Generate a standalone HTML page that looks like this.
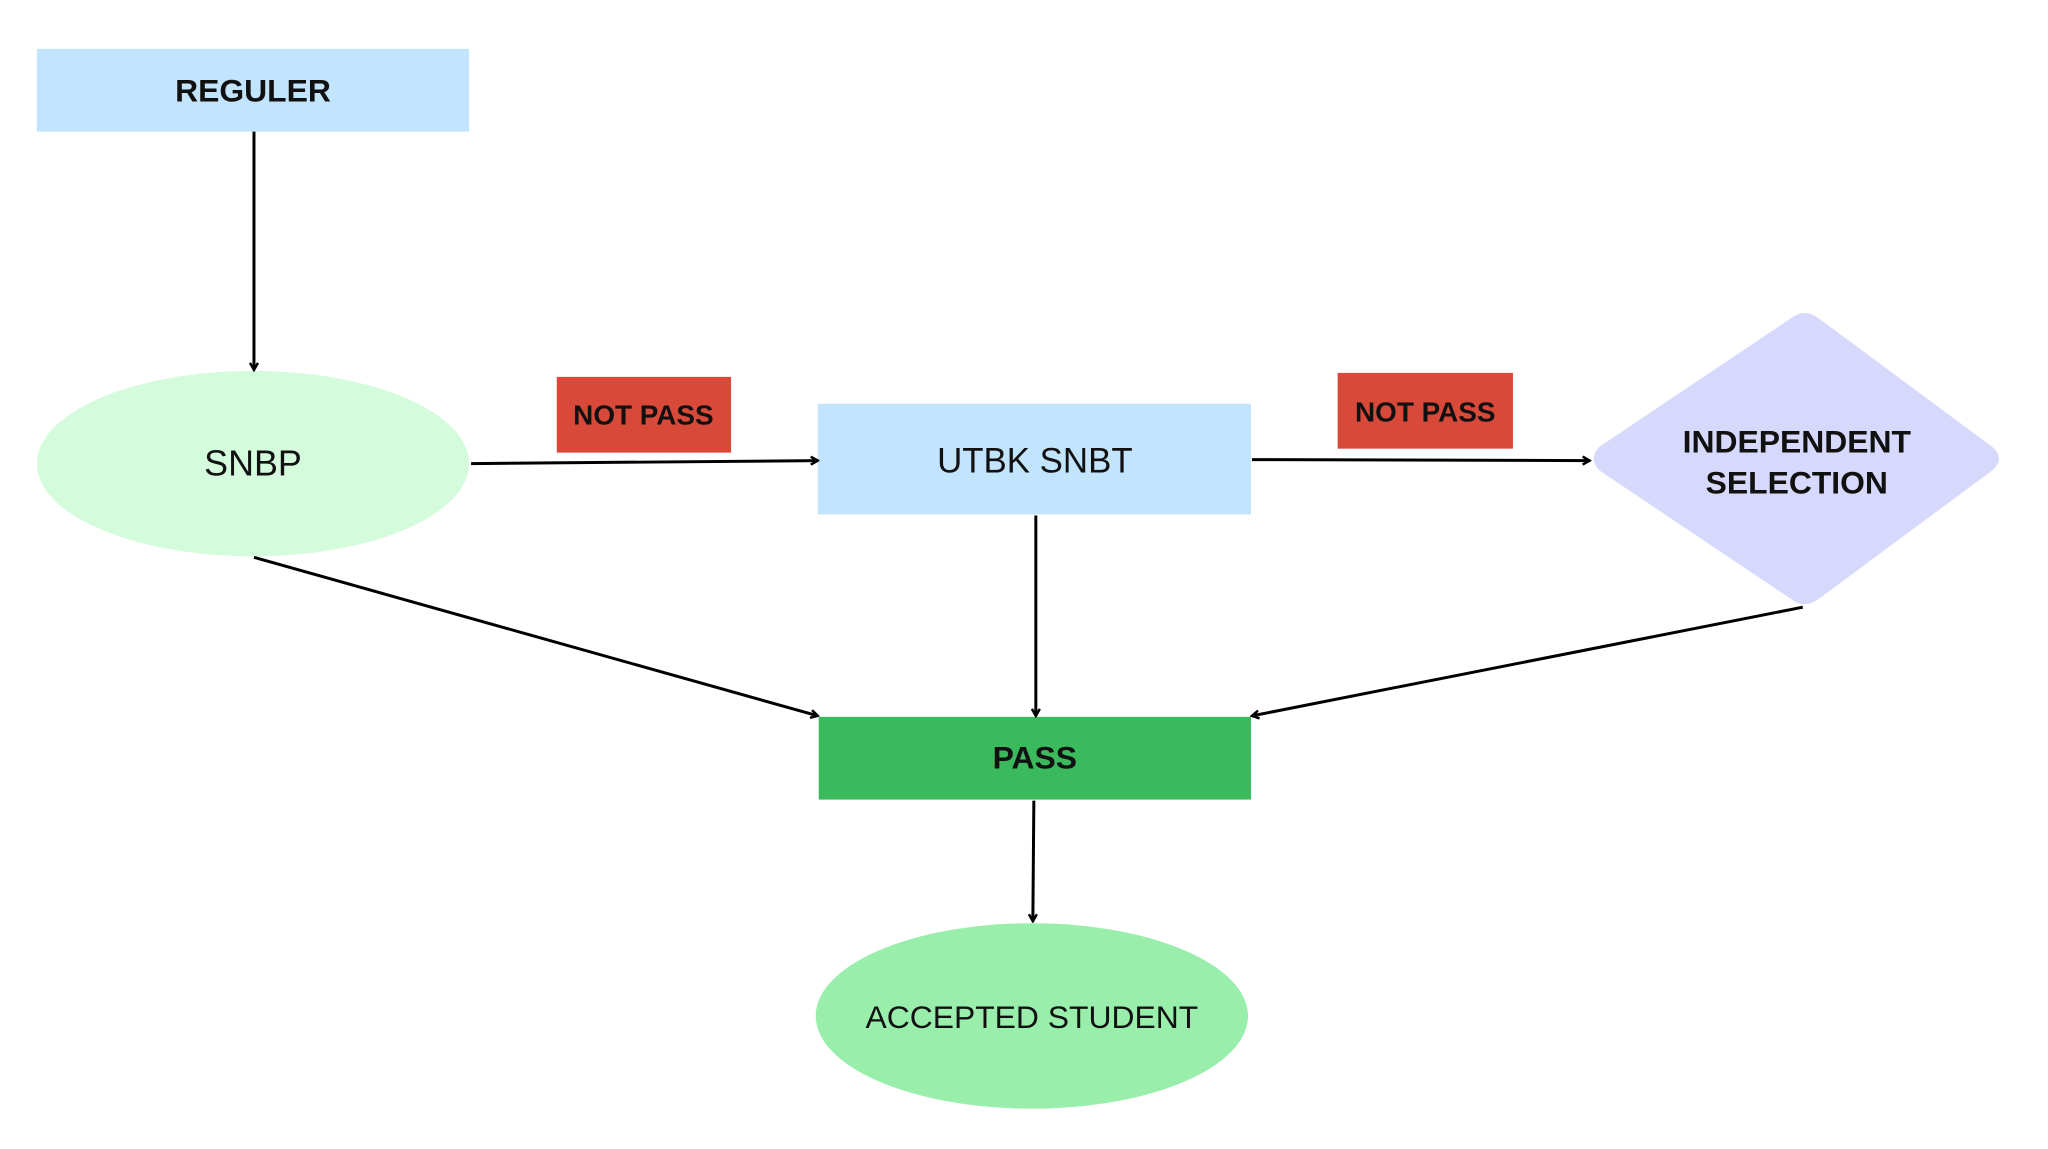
<!DOCTYPE html>
<html><head><meta charset="utf-8"><style>
html,body{margin:0;padding:0;background:#fff;}
body{width:2048px;height:1144px;overflow:hidden;}
text{font-family:"Liberation Sans",sans-serif;fill:#111;}
</style></head><body>
<svg width="2048" height="1144" viewBox="0 0 2048 1144" xmlns="http://www.w3.org/2000/svg">
<defs>
<marker id="a" markerWidth="10" markerHeight="10" refX="8" refY="5" orient="auto" markerUnits="userSpaceOnUse">
<path d="M1,1 L8,5 L1,9" fill="none" stroke="#000" stroke-width="2.5"/>
</marker>
</defs>
<g transform="scale(0.996,0.997)">
<rect x="37" y="49" width="434" height="83" fill="#c2e4fc"/>
<text x="254" y="102" font-size="32" font-weight="bold" text-anchor="middle">REGULER</text>
<ellipse cx="254" cy="465" rx="217" ry="93" fill="#d5fbdd"/>
<text x="254" y="477" font-size="36" text-anchor="middle">SNBP</text>
<rect x="559" y="378" width="175" height="76" fill="#d8493a"/>
<text x="646" y="426" font-size="28" font-weight="bold" text-anchor="middle">NOT PASS</text>
<rect x="821" y="405" width="435" height="111" fill="#c2e4fc"/>
<text x="1039" y="474" font-size="35" text-anchor="middle">UTBK SNBT</text>
<rect x="1343" y="374" width="176" height="76" fill="#d8493a"/>
<text x="1431" y="423" font-size="28" font-weight="bold" text-anchor="middle">NOT PASS</text>
<path d="M1797,320 Q1812,308 1827,320 L2000,448 Q2014,460 2000,472 L1827,600 Q1812,612 1797,600 L1606,472 Q1594,460 1606,448 Z" fill="#d6d9fb"/>
<text x="1804" y="454" font-size="32" font-weight="bold" text-anchor="middle">INDEPENDENT</text>
<text x="1804" y="495" font-size="32" font-weight="bold" text-anchor="middle">SELECTION</text>
<rect x="822" y="719" width="434" height="83" fill="#3bb95d"/>
<text x="1039" y="771" font-size="32" font-weight="bold" text-anchor="middle">PASS</text>
<ellipse cx="1036" cy="1019" rx="217" ry="93" fill="#99eeab"/>
<text x="1036" y="1031" font-size="32" text-anchor="middle">ACCEPTED STUDENT</text>
<g stroke="#000" stroke-width="3" fill="none" marker-end="url(#a)">
<line x1="255" y1="132" x2="255" y2="371"/>
<line x1="473" y1="465" x2="821" y2="462"/>
<line x1="1257" y1="461" x2="1596" y2="462"/>
<line x1="1040" y1="517" x2="1040" y2="718"/>
<line x1="255" y1="559" x2="821" y2="718"/>
<line x1="1810" y1="609" x2="1257" y2="718"/>
<line x1="1038" y1="803" x2="1037" y2="924"/>
</g>
</g>
</svg>
</body></html>
